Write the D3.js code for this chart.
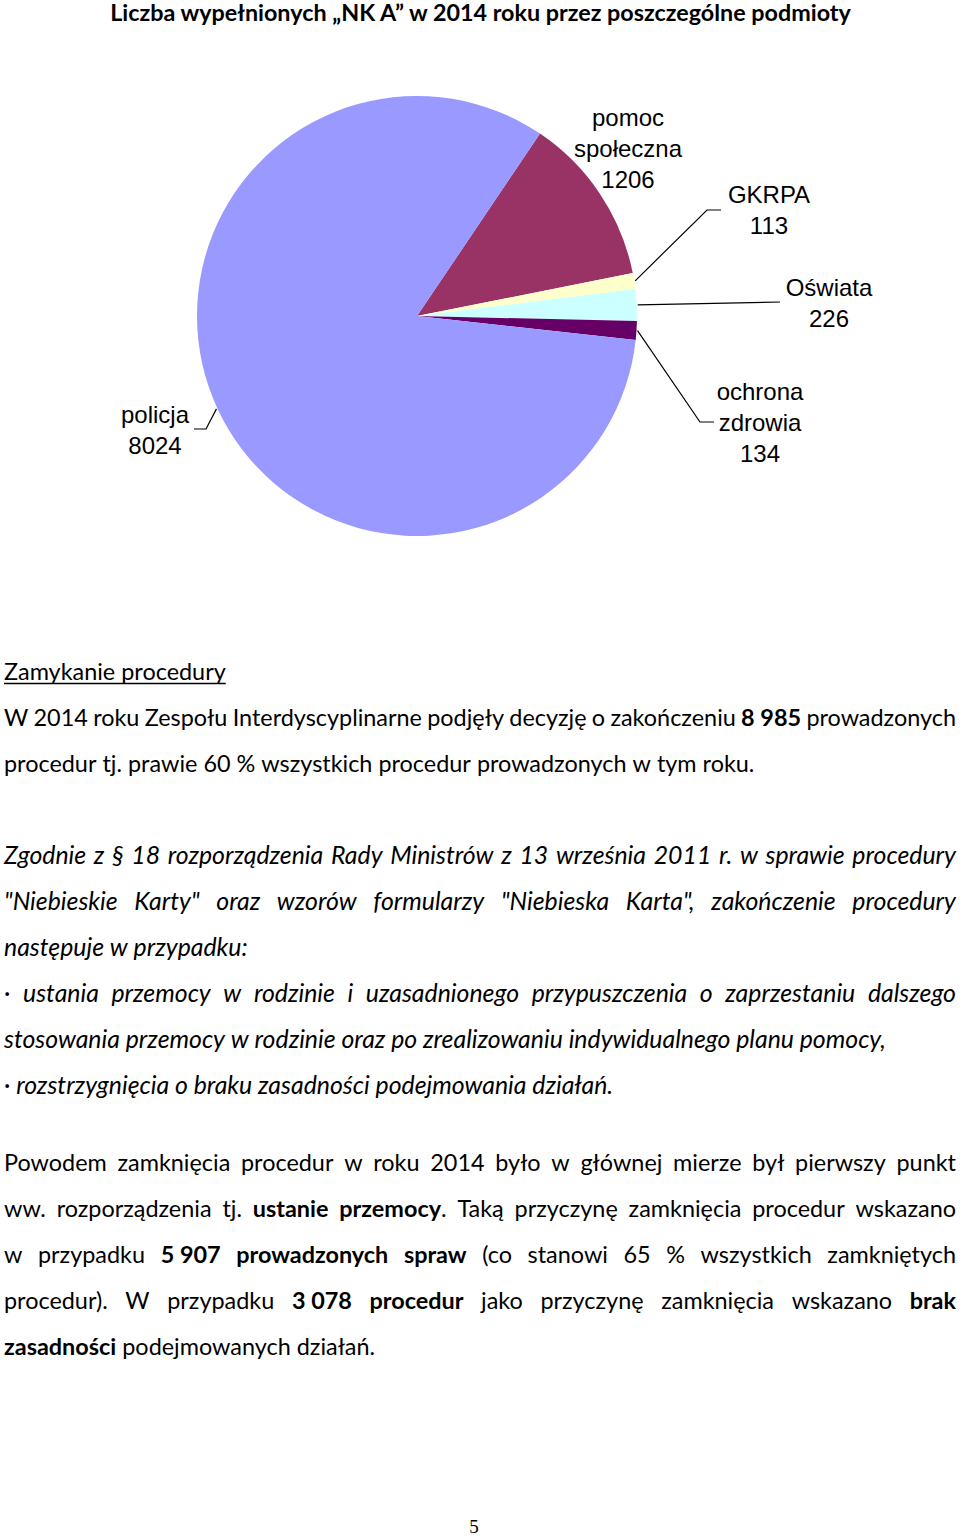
<!DOCTYPE html>
<html><head><meta charset="utf-8">
<script src="https://cdn.jsdelivr.net/npm/d3@7"></script>
<style>body{margin:0;background:#fff}</style>
</head><body>
<script>
// ---------- DATA ----------
const categories = ["pomoc społeczna", "GKRPA", "Oświata", "ochrona zdrowia", "policja"];
const counts = [1206, 113, 226, 134, 8024];
const labelLines = [["pomoc", "społeczna"], ["GKRPA"], ["Oświata"], ["ochrona", "zdrowia"], ["policja"]];
const colors = ["#993366", "#FFFFCC", "#CCFFFF", "#660066", "#9999FF"];
const title = "Liczba wypełnionych „NK A” w 2014 roku przez poszczególne podmioty";

const para1 = [
  "W 2014 roku Zespołu Interdyscyplinarne podjęły decyzję o zakończeniu **8\u00A0985** prowadzonych",
  "procedur tj. prawie 60 % wszystkich procedur prowadzonych w tym roku."
];
const para2 = [
  "Zgodnie z § 18 rozporządzenia Rady Ministrów z 13 września 2011 r. w sprawie procedury",
  "\"Niebieskie Karty\" oraz wzorów formularzy \"Niebieska Karta\", zakończenie procedury",
  "następuje w przypadku:",
  "· ustania przemocy w rodzinie i uzasadnionego przypuszczenia o zaprzestaniu dalszego",
  "stosowania przemocy w rodzinie oraz po zrealizowaniu indywidualnego planu pomocy,",
  "· rozstrzygnięcia o braku zasadności podejmowania działań."
];
const para3 = [
  "Powodem zamknięcia procedur w roku 2014 było w głównej mierze był pierwszy punkt",
  "ww. rozporządzenia tj. **ustanie przemocy**. Taką przyczynę zamknięcia procedur wskazano",
  "w przypadku **5\u00A0907 prowadzonych spraw** (co stanowi 65 % wszystkich zamkniętych",
  "procedur). W przypadku **3\u00A0078 procedur** jako przyczynę zamknięcia wskazano **brak**",
  "**zasadności** podejmowanych działań."
];
const para1Justify = [true, false];
const para2Justify = [true, true, false, true, false, false];
const para3Justify = [true, true, true, true, false];

// ---------- DRAW ----------
const W = 960, H = 1537;
const svg = d3.select("body").append("svg").attr("width", W).attr("height", H);
const BODY_FONT = "Lato, 'Open Sans', sans-serif";

function measure(str, size, weight, style) {
  const t = svg.append("text").attr("font-family", BODY_FONT).attr("font-size", size)
    .attr("font-weight", weight || "normal").attr("font-style", style || "normal").text(str);
  const w = t.node().getComputedTextLength(); t.remove(); return w;
}

// Title
const titleSize = 100 * 741 / measure(title, 100, "bold");
svg.append("text").attr("x", 480.5).attr("y", 21).attr("text-anchor", "middle")
  .attr("font-family", BODY_FONT).attr("font-weight", "bold").attr("font-size", titleSize)
  .attr("fill", "#000").text(title);

// Pie
const cx = 417, cy = 316, R = 220;
const a0 = 34 * Math.PI / 180;
const pie = d3.pie().sort(null).value(d => d).startAngle(a0).endAngle(a0 + 2 * Math.PI);
const arcs = pie(counts);
const arc = d3.arc().innerRadius(0).outerRadius(R);
const gp = svg.append("g").attr("transform", `translate(${cx},${cy})`);
gp.selectAll("path").data(arcs).join("path").attr("d", arc).attr("fill", (d, i) => colors[i]);

const labelLayout = [
  { x: 628, y: 125.5, leader: null },
  { x: 769, y: 202.5, leader: [[707, 210], [721, 210]] },
  { x: 829, y: 295.5, leader: [[780, 302]] },
  { x: 760, y: 399.5, leader: [[700, 422], [714, 422]] },
  { x: 155, y: 422.5, leader: [[206, 429], [194, 429]] }
];
const LF = "'Liberation Sans', Arial, sans-serif";
arcs.forEach((d, i) => {
  const L = labelLayout[i];
  const lines = labelLines[i].concat([String(counts[i])]);
  const t = svg.append("text").attr("font-family", LF).attr("font-size", 24).attr("fill", "#000")
    .attr("text-anchor", "middle");
  lines.forEach((s, k) => t.append("tspan").attr("x", L.x).attr("y", L.y + k * 31).text(s));
  if (L.leader) {
    const mid = (d.startAngle + d.endAngle) / 2;
    const r = R + 1;
    const pts = [[cx + r * Math.sin(mid), cy - r * Math.cos(mid)]].concat(L.leader);
    svg.append("path").attr("d", d3.line()(pts)).attr("fill", "none")
      .attr("stroke", "#000").attr("stroke-width", 1.2);
  }
});

// Body text sizes fitted to the reference line widths
const bodySize = 100 * 748 / measure("procedur tj. prawie 60 % wszystkich procedur prowadzonych w tym roku.", 100);
const italicSize = 100 * 881 / measure("stosowania przemocy w rodzinie oraz po zrealizowaniu indywidualnego planu pomocy,", 100, "normal", "italic");

function tokenize(str) {
  const words = []; let cur = []; let bold = false; let buf = "";
  const flush = () => { if (buf) { cur.push({ t: buf, b: bold }); buf = ""; } };
  for (let i = 0; i < str.length; i++) {
    if (str[i] === "*" && str[i + 1] === "*") { flush(); bold = !bold; i++; continue; }
    if (str[i] === " ") { flush(); if (cur.length) words.push(cur); cur = []; continue; }
    buf += str[i];
  }
  flush(); if (cur.length) words.push(cur);
  return words;
}

function drawLine(str, y, justify, italic) {
  const x0 = 4, x1 = 956;
  const size = italic ? italicSize : bodySize;
  const st = italic ? "italic" : "normal";
  const words = tokenize(str);
  const els = words.map(runs => {
    const t = svg.append("text").attr("y", y).attr("font-family", BODY_FONT).attr("font-size", size)
      .attr("font-style", st).attr("fill", "#000");
    runs.forEach(r => t.append("tspan").attr("font-weight", r.b ? "bold" : "normal").text(r.t));
    return t;
  });
  const widths = els.map(e => e.node().getComputedTextLength());
  const spaceW = measure("a a", size, "normal", st) - measure("aa", size, "normal", st);
  const total = d3.sum(widths);
  const gap = justify && els.length > 1 ? (x1 - x0 - total) / (els.length - 1) : spaceW;
  let x = x0;
  els.forEach((e, i) => { e.attr("x", x); x += widths[i] + gap; });
  return x - gap;
}

// heading
const hw = drawLine("Zamykanie procedury", 680, false, false);
svg.append("line").attr("x1", 4).attr("x2", hw).attr("y1", 683.5).attr("y2", 683.5)
  .attr("stroke", "#000").attr("stroke-width", 1.3);

para1.forEach((s, i) => drawLine(s, 726 + i * 46, para1Justify[i], false));
para2.forEach((s, i) => drawLine(s, 864 + i * 46, para2Justify[i], true));
para3.forEach((s, i) => drawLine(s, 1171 + i * 46, para3Justify[i], false));

// page number
svg.append("text").attr("x", 474).attr("y", 1533).attr("text-anchor", "middle")
  .attr("font-family", "'Liberation Serif', 'Times New Roman', serif").attr("font-size", 19)
  .attr("fill", "#000").text("5");
</script>
</body></html>
